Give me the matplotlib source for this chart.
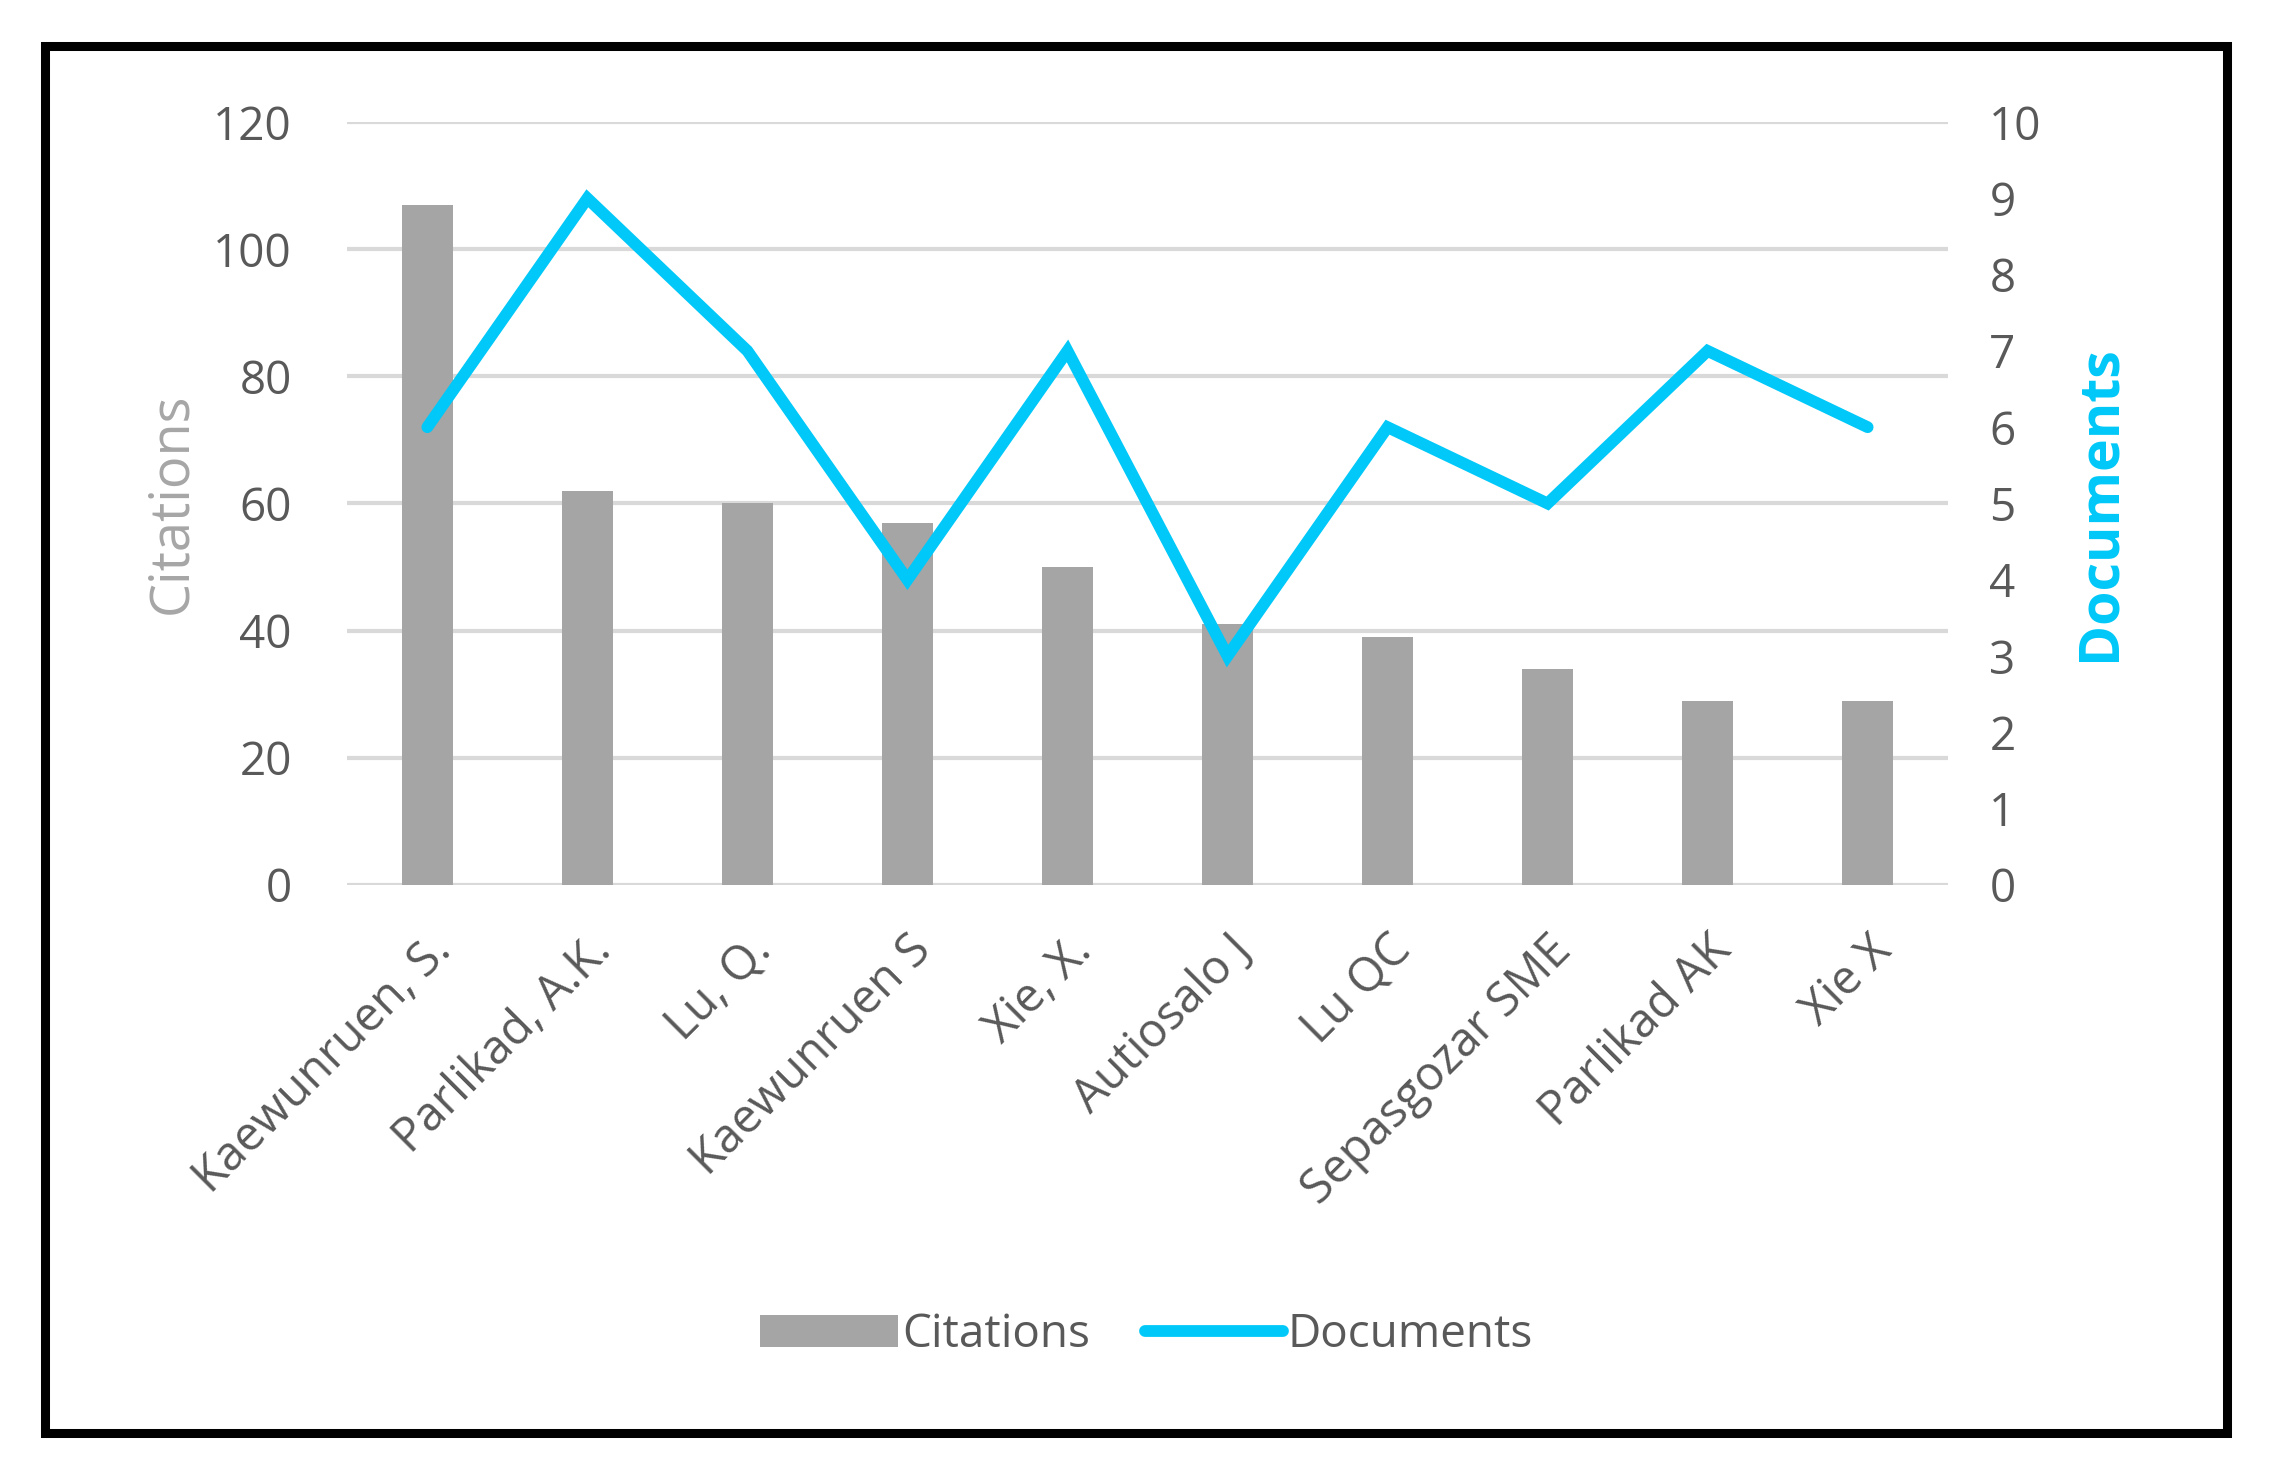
import matplotlib.pyplot as plt
from matplotlib.patches import Rectangle

plt.rcParams['font.family'] = ['Open Sans', 'DejaVu Sans']

authors = ['Kaewunruen, S.', 'Parlikad, A.K.', 'Lu, Q.', 'Kaewunruen S', 'Xie, X.',
           'Autiosalo J', 'Lu QC', 'Sepasgozar SME', 'Parlikad AK', 'Xie X']
citations = [107, 62, 60, 57, 50, 41, 39, 34, 29, 29]
documents = [6, 9, 7, 4, 7, 3, 6, 5, 7, 6]

bar_col = '#A5A5A5'
line_col = '#00C8F8'
txt_col = '#595959'

fig = plt.figure(figsize=(22.7, 14.7), dpi=100)
ax = fig.add_axes([0.153, 0.398, 0.705, 0.519])
ax2 = ax.twinx()

x = range(len(authors))
ax.bar(x, citations, width=0.32, color=bar_col, zorder=2, label='Citations')
ax2.plot(x, documents, color=line_col, lw=8.5, solid_capstyle='round',
         solid_joinstyle='miter', zorder=3, label='Documents')

ax.set_xlim(-0.5, len(authors) - 0.5)
ax.set_ylim(0, 120)
ax.set_yticks(range(0, 121, 20))
ax2.set_ylim(0, 10)
ax2.set_yticks(range(0, 11))

ax.yaxis.grid(True, color='#D9D9D9', lw=3)
ax.set_axisbelow(True)
for a in (ax, ax2):
    for s in a.spines.values():
        s.set_visible(False)
    a.tick_params(length=0, labelsize=33, colors=txt_col)
ax.tick_params(axis='y', pad=40)
ax2.tick_params(axis='y', pad=30)

ax.set_xticks(list(x))
ax.set_xticklabels(authors, rotation=45, ha='right', rotation_mode='anchor',
                   fontsize=34, color=txt_col)
ax.tick_params(axis='x', pad=30)

ax.set_ylabel('Citations', fontsize=39, color='#A6A6A6', labelpad=10)
ax2.set_ylabel('Documents', fontsize=40, color=line_col, fontweight='bold',
               labelpad=22)

h1, l1 = ax.get_legend_handles_labels()
h2, l2 = ax2.get_legend_handles_labels()
leg = fig.legend(h1 + h2, l1 + l2, loc='center', bbox_to_anchor=(0.505, 0.092),
                 ncol=2, frameon=False, fontsize=33, handlelength=3.0,
                 handletextpad=0.1, columnspacing=1.2)
for t in leg.get_texts():
    t.set_color(txt_col)

fig.patches.append(Rectangle((0.02, 0.025), 0.961, 0.944, transform=fig.transFigure,
                             fill=False, edgecolor='black', lw=6.5))

fig.savefig('out.png', dpi=100)
